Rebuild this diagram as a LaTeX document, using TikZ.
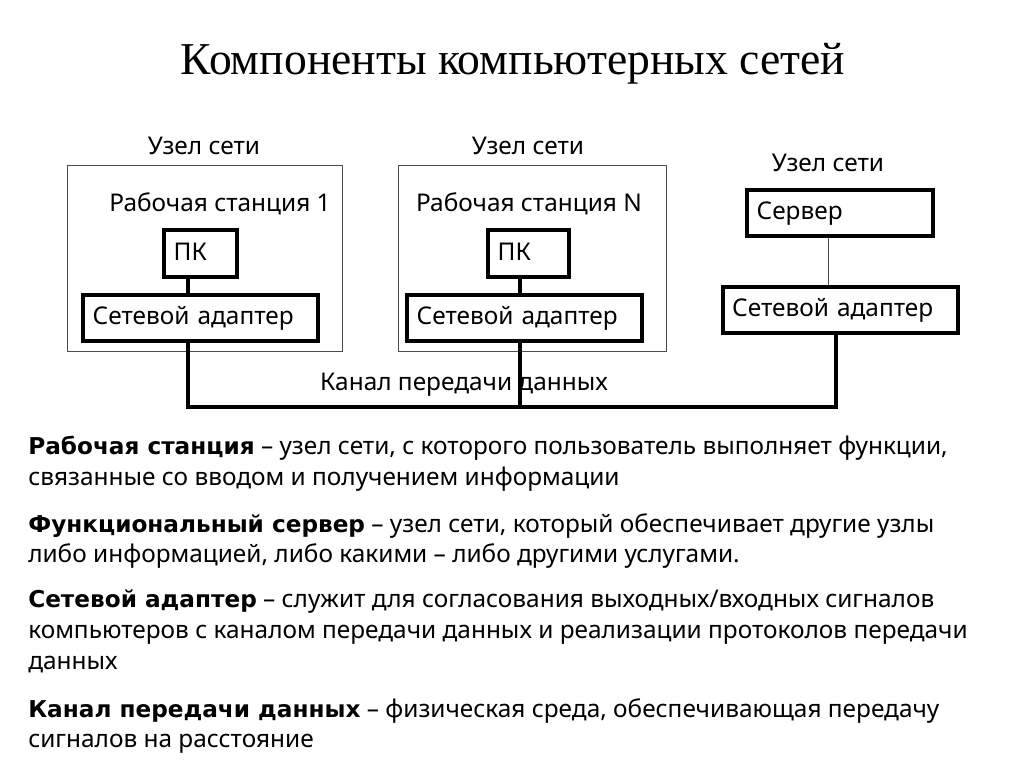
\documentclass[tikz,border=0pt]{standalone}
\usepackage{fontspec}
\setmainfont{Noto Sans}[BoldFont={DejaVu Sans Bold},BoldFeatures={Scale=0.95}]
\newfontfamily\titlefont{Liberation Serif}
\tikzset{
  nodelabel/.style={font=\fontsize{18.3}{20}\selectfont},
  hostbox/.style={draw=black!70, line width=.7pt, anchor=north west},
  netbox/.style={draw, line width=3pt, anchor=north west, inner xsep=7.25pt, inner ysep=0pt,
    text width=#1, text height=14pt, text depth=4pt, minimum height=35pt, font=\fontsize{18.3}{20}\selectfont},
  defn/.style={anchor=north west, align=left, inner sep=0pt, font=\fontsize{18.3}{23}\selectfont},
  wire/.style={line width=3pt}
}
\begin{document}
\begin{tikzpicture}[x=.75pt,y=-.75pt]
   \useasboundingbox (0,0) rectangle (1024,767);
   \node[font=\titlefont\fontsize{34.2}{38}\selectfont] (title) at (513,64) {Компоненты компьютерных сетей};

   \node[hostbox, minimum width=275*.75pt, minimum height=186*.75pt] (host1) at (66.5,165) {};
   \node[hostbox, minimum width=268*.75pt, minimum height=186*.75pt] (hostN) at (398,165) {};
   \node[nodelabel] (lab1) at (204,146) {Узел сети};
   \node[nodelabel] (labN) at (528,146) {Узел сети};
   \node[nodelabel] (labS) at (828,163) {Узел сети};
   \node[nodelabel] (ws1) at (220,204) {Рабочая станция 1};
   \node[nodelabel] (wsN) at (529,204) {Рабочая станция N};

   \node[netbox=40.25pt] (pc1) at (162,228) {ПК};
   \node[netbox=46.25pt] (pcN) at (486,228) {ПК};
   \node[netbox=161.75pt] (ad1) at (81,292.5) {Сетевой адаптер};
   \node[netbox=161.75pt] (adN) at (405,292.5) {Сетевой адаптер};
   \node[netbox=125pt] (srv) at (745,187.5) {Сервер};
   \node[netbox=161.75pt] (adS) at (720.5,284.5) {Сетевой адаптер};

   \node[nodelabel] (chan) at (464,385) {Канал передачи данных};

   \coordinate (bus1) at (188,407);
   \coordinate (busN) at (520,407);
   \coordinate (busS) at (836,407);
   \coordinate (srvx) at (828,407);

   \draw[wire] (bus1 |- pc1.south) -- (bus1 |- ad1.north);
   \draw[wire] (busN |- pcN.south) -- (busN |- adN.north);
   \draw[black!70, line width=.7pt] (srvx |- srv.south) -- (srvx |- adS.north);
   \draw[wire] (bus1 |- ad1.south) -- (bus1) -- (busS) -- (busS |- adS.south);
   \draw[wire] (busN |- adN.south) -- (busN);

   \node[defn] (d1) at (28,436) {\textbf{Рабочая станция} -- узел сети, с которого пользователь выполняет функции,\\связанные со вводом и получением информации};
   \node[defn] (d2) at (28,513) {\textbf{Функциональный сервер} -- узел сети, который обеспечивает другие узлы\\либо информацией, либо какими -- либо другими услугами.};
   \node[defn] (d3) at (28,590) {\textbf{Сетевой адаптер} -- служит для согласования выходных/входных сигналов\\компьютеров с каналом передачи данных и реализации протоколов передачи\\данных};
   \node[defn] (d4) at (28,698) {\textbf{Канал передачи данных} -- физическая среда, обеспечивающая передачу\\сигналов на расстояние};
\end{tikzpicture}
\end{document}
